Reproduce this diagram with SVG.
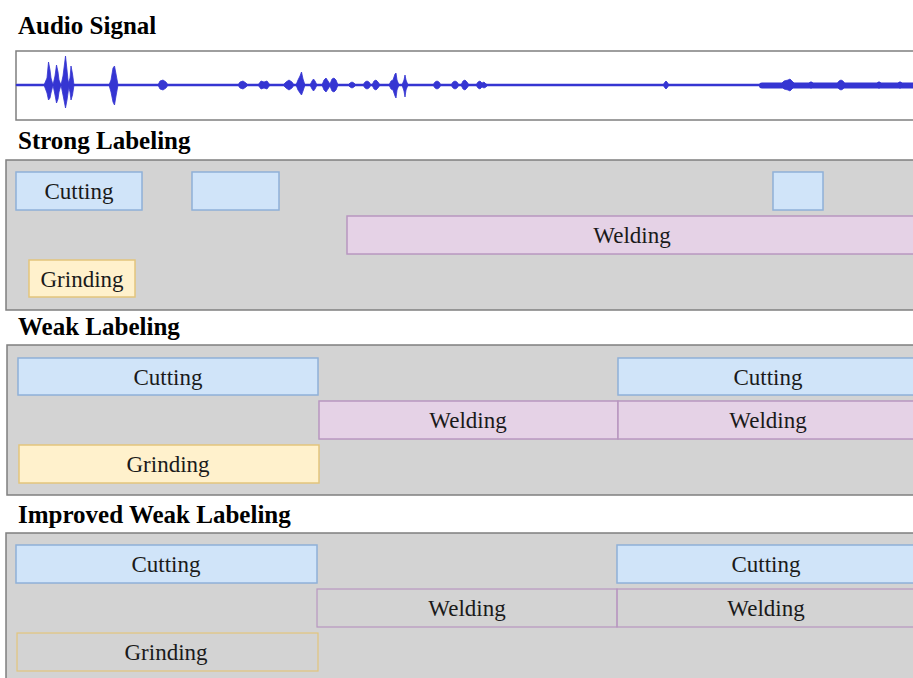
<svg xmlns="http://www.w3.org/2000/svg" width="913" height="678" viewBox="0 0 913 678">
<style>
.title{font-family:"Liberation Serif","Times New Roman",serif;font-weight:bold;font-size:25px;fill:#000}
.lbl{font-family:"Liberation Serif","Times New Roman",serif;font-size:23px;fill:#1a1a1a;text-anchor:middle}
.panel{fill:#d3d3d3;stroke:#7f7f7f;stroke-width:1.5}
.cut{fill:#d0e4f9;stroke:#8fb0d8;stroke-width:1.5}
.weld{fill:#e5d2e6;stroke:#b897c0;stroke-width:1.5}
.grind{fill:#fff1cc;stroke:#e3c57c;stroke-width:1.5}
.weldo{fill:none;stroke:#b897c0;stroke-width:1.2}
.grindo{fill:none;stroke:#e3c57c;stroke-width:1.2}
.wave{stroke:#3535d2;fill:none;stroke-linecap:round}
.sp{fill:#3535d2;stroke:#3535d2;stroke-width:0.8;stroke-linejoin:round}
</style>
<rect x="0" y="0" width="913" height="678" fill="#ffffff"/>

<g id="audio-signal">
<text class="title" x="18" y="34">Audio Signal</text>
<rect x="16" y="51" width="905" height="69" fill="#ffffff" stroke="#7f7f7f" stroke-width="1.5"/>
<path class="wave" stroke-width="2.5" d="M17 85H913"/>
<path class="wave" stroke-width="6" d="M762 85.5H913"/>
<!-- big bursts -->
<path class="sp" d="M44 85L47 78L48.5 62L50 70L51 78L53 85L51 93L50 98L48.5 100L47 93Z"/>
<path class="sp" d="M53 85L55 76L56.5 65L58 72L59 80L61 85L59 92L58 99L56.5 103L55 95Z"/>
<path class="sp" d="M61 85L63 76L65.5 56L67 70L68 80L69 85L68 93L67 100L65.5 108L63 95Z"/>
<path class="sp" d="M68 85L70 78L71 66L72.5 74L74 85L72.5 95L71 100L70 92Z"/>
<path class="sp" d="M109 85L111 80L113 68L114.5 66L116 74L118 85L116 96L114.5 105L113 102L111 92Z"/>
<!-- small blobs -->
<path class="sp" d="M158 85L160 81L163 80L166 82L168 85L166 88L163 90L160 89Z"/>
<path class="sp" d="M238 85L240 82L243 81L246 83L248 85L246 87L243 89L240 88Z"/>
<path class="sp" d="M258 85L261 81L264 82L267 81L270 85L267 89L264 88L261 89Z"/>
<path class="sp" d="M283 85L286 82L289 80L292 82L294 85L292 88L289 90L286 88Z"/>
<path class="sp" d="M296 85L298 80L300 76L301.5 72L303 79L305 85L303 91L301.5 95L300 93L298 90Z"/>
<path class="sp" d="M310 85L312 81L313.5 79L315 81L317 85L315 89L313.5 91L312 89Z"/>
<path class="sp" d="M322 85L324 80L326 78L328 81L330 84L332 79L334 78L336 80L338 85L336 90L334 92L332 91L330 86L328 89L326 92L324 90Z"/>
<path class="sp" d="M348 85L350 83L352 82L354 83L356 85L354 87L352 88L350 87Z"/>
<path class="sp" d="M363 85L365 82L367 81L369 82L371 85L369 88L367 89L365 88Z"/>
<path class="sp" d="M372 85L374 81L376 80L378 82L380 85L378 88L376 90L374 89Z"/>
<path class="sp" d="M389 85L391 81L393 80L395 74L396 73L397 80L399 85L397 90L396 98L395 96L393 90L391 89Z"/>
<path class="sp" d="M402 85L404 80L405 75L406 80L408 85L406 90L405 97L404 91Z"/>
<path class="sp" d="M433 85L435 82L437 81L439 82L441 85L439 88L437 89L435 88Z"/>
<path class="sp" d="M451 85L453 82L455 81L457 82L459 85L457 88L455 89L453 88Z"/>
<path class="sp" d="M461 85L463 81L465 80L467 82L469 85L467 88L465 90L463 89Z"/>
<path class="sp" d="M476 85L478 82L480 81L482 83L484 82L486 84L488 85L486 87L484 88L482 87L480 89L478 88Z"/>
<path class="sp" d="M663 85L665 82L666 81L667 82L669 85L667 88L666 89L665 88Z"/>
<path class="sp" d="M780 85L784 81L788 80L790 79L792 81L796 85L792 89L790 91L788 90L784 89Z"/>
<path class="sp" d="M836 85L839 81L841 80L843 81L846 85L843 89L841 90L839 89Z"/>
<path class="sp" d="M808 85L810 82L812 82L814 85L812 88L810 88Z"/>
<path class="sp" d="M876 85L878 82L880 82L882 85L880 88L878 88Z"/>
<path class="sp" d="M897 85L899 82L901 82L903 85L901 88L899 88Z"/>
</g>

<text class="title" x="18" y="149">Strong Labeling</text>
<rect class="panel" x="6" y="160" width="915" height="150"/>
<g id="strong-cutting-1"><rect class="cut" x="16" y="172" width="126" height="38"/><text class="lbl" x="79" y="199">Cutting</text></g>
<g id="strong-cutting-2"><rect class="cut" x="192" y="172" width="87" height="38"/></g>
<g id="strong-cutting-3"><rect class="cut" x="773" y="172" width="50" height="38"/></g>
<g id="strong-welding"><rect class="weld" x="347" y="216" width="574" height="38"/><text class="lbl" x="632" y="243">Welding</text></g>
<g id="strong-grinding"><rect class="grind" x="29" y="260" width="106" height="37"/><text class="lbl" x="82" y="287">Grinding</text></g>

<text class="title" x="18" y="335">Weak Labeling</text>
<rect class="panel" x="7" y="345" width="914" height="150"/>
<g id="weak-cutting-1"><rect class="cut" x="18" y="358" width="300" height="37"/><text class="lbl" x="168" y="385">Cutting</text></g>
<g id="weak-cutting-2"><rect class="cut" x="618" y="358" width="303" height="37"/><text class="lbl" x="768" y="385">Cutting</text></g>
<g id="weak-welding-1"><rect class="weld" x="319" y="401" width="299" height="38"/><text class="lbl" x="468" y="428">Welding</text></g>
<g id="weak-welding-2"><rect class="weld" x="618" y="401" width="303" height="38"/><text class="lbl" x="768" y="428">Welding</text></g>
<g id="weak-grinding"><rect class="grind" x="19" y="445" width="300" height="38"/><text class="lbl" x="168" y="472">Grinding</text></g>

<text class="title" x="18" y="523">Improved Weak Labeling</text>
<rect class="panel" x="6" y="533" width="915" height="155"/>
<g id="improved-cutting-1"><rect class="cut" x="16" y="545" width="301" height="38"/><text class="lbl" x="166" y="572">Cutting</text></g>
<g id="improved-cutting-2"><rect class="cut" x="617" y="545" width="304" height="38"/><text class="lbl" x="766" y="572">Cutting</text></g>
<g id="improved-welding-1"><rect class="weldo" x="317" y="589" width="300" height="38"/><text class="lbl" x="467" y="616">Welding</text></g>
<g id="improved-welding-2"><rect class="weldo" x="617" y="589" width="304" height="38"/><text class="lbl" x="766" y="616">Welding</text></g>
<g id="improved-grinding"><rect class="grindo" x="17" y="633" width="301" height="38"/><text class="lbl" x="166" y="660">Grinding</text></g>
</svg>
